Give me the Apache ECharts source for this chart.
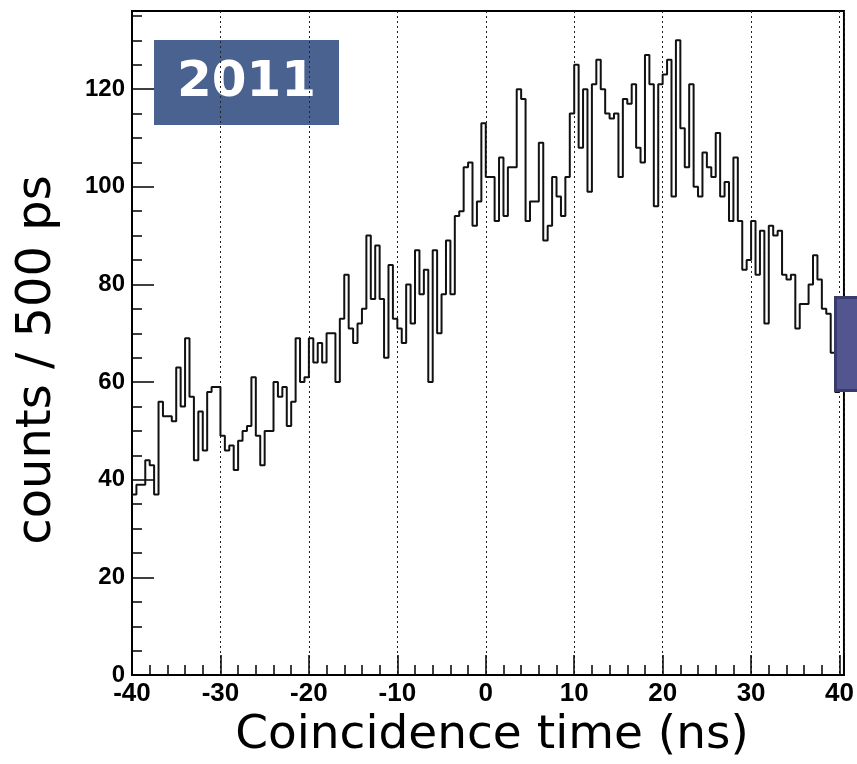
<!DOCTYPE html>
<html>
<head>
<meta charset="utf-8">
<script src="https://cdn.jsdelivr.net/npm/echarts@6/dist/echarts.min.js"></script>
<style>
  html, body { margin: 0; padding: 0; background: #fff; }
  #chart { width: 857px; height: 764px; }
</style>
</head>
<body>
<div id="chart"></div>
<script>
// Coincidence-time histogram, 0.5 ns bins from -40 ns to +40 ns
const binStart = -40;
const binWidth = 0.5;
const counts = [
  37, 39, 39, 44, 43, 37, 56, 53, 53, 52, 63, 55, 69, 57, 44, 54, 46, 58, 59, 59,
  49, 46, 47, 42, 48, 50, 51, 61, 49, 43, 50, 50, 60, 57, 59, 51, 56, 69, 60, 61,
  69, 64, 68, 64, 70, 70, 60, 73, 82, 71, 68, 72, 75, 90, 77, 88, 77, 65, 84, 73,
  71, 68, 80, 72, 87, 78, 83, 60, 87, 70, 78, 89, 78, 94, 95, 104, 105, 92, 97, 113,
  102, 102, 93, 106, 94, 104, 104, 120, 118, 93, 97, 97, 109, 89, 92, 102, 98, 94, 102, 115,
  125, 108, 120, 99, 121, 126, 120, 115, 114, 115, 102, 118, 117, 121, 108, 105, 127, 121, 96, 121,
  123, 126, 98, 130, 112, 104, 121, 100, 98, 107, 104, 102, 111, 98, 101, 93, 106, 93, 83, 85,
  93, 82, 91, 72, 92, 90, 91, 82, 81, 82, 71, 76, 76, 80, 86, 81, 75, 74, 66, 58
];
const xTickLabels = ['-40', '-30', '-20', '-10', '0', '10', '20', '30', '40'];
const yTickLabels = ['0', '20', '40', '60', '80', '100', '120'];
const yearTag = '2011';
const xTitle = 'Coincidence time (ns)';
const yTitle = 'counts / 500 ps';

// Step outline: each bin's left edge, plus the closing edge of the last bin
const histPoints = counts.map((c, i) => [binStart + i * binWidth, c]);
histPoints.push([binStart + counts.length * binWidth, counts[counts.length - 1]]);

const tickFont = "'Liberation Sans Narrow', 'Liberation Sans', Arial, sans-serif";
const titleFont = "'DejaVu Sans', Verdana, sans-serif";

const chart = echarts.init(document.getElementById('chart'), null, { renderer: 'canvas' });
chart.setOption({
  animation: false,
  backgroundColor: '#ffffff',
  grid: {
    left: 132, right: 10, top: 11, bottom: 85,
    show: true, borderColor: '#000', borderWidth: 2, backgroundColor: 'transparent'
  },
  xAxis: [
    {
      type: 'value', min: -40, max: 40.5, interval: 10, position: 'bottom',
      name: xTitle, nameLocation: 'middle', nameGap: 36,
      nameTextStyle: { fontFamily: titleFont, fontSize: 47, color: '#000', padding: [0, 0, 0, 8] },
      axisLine: { show: true, onZero: false, lineStyle: { color: '#000', width: 2 } },
      axisTick: { show: true, inside: true, length: 20, lineStyle: { color: '#000', width: 1.5 } },
      axisLabel: {
        margin: 6, color: '#000', fontFamily: tickFont, fontWeight: 'bold', fontSize: 26,
        formatter: v => (xTickLabels.indexOf(String(v)) >= 0 ? String(v) : '')
      },
      splitLine: { show: true, lineStyle: { color: '#222', width: 1, type: [2, 3] } }
    },
    {
      type: 'value', min: -40, max: 40.5, interval: 2, position: 'bottom',
      axisLine: { show: false, onZero: false },
      axisTick: { show: true, inside: true, length: 10, lineStyle: { color: '#000', width: 1.5 } },
      axisLabel: { show: false },
      splitLine: { show: false }
    }
  ],
  yAxis: [
    {
      type: 'value', min: 0, max: 136, interval: 20, position: 'left',
      axisLine: { show: true, onZero: false, lineStyle: { color: '#000', width: 2 } },
      axisTick: { show: true, inside: true, length: 22, lineStyle: { color: '#000', width: 1.5 } },
      axisLabel: {
        margin: 7, color: '#000', fontFamily: tickFont, fontWeight: 'bold', fontSize: 24,
        formatter: v => (yTickLabels.indexOf(String(v)) >= 0 ? String(v) : '')
      },
      splitLine: { show: false }
    },
    {
      type: 'value', min: 0, max: 136, interval: 5, position: 'left',
      axisLine: { show: false, onZero: false },
      axisTick: { show: true, inside: true, length: 10, lineStyle: { color: '#000', width: 1.5 } },
      axisLabel: { show: false },
      splitLine: { show: false }
    }
  ],
  series: [
    {
      type: 'line',
      xAxisIndex: 0, yAxisIndex: 0,
      data: histPoints,
      step: 'end',
      symbol: 'none',
      lineStyle: { color: '#111', width: 2 },
      z: 5
    }
  ],
  graphic: [
    {
      // vertical axis title, reading bottom to top
      type: 'text', z: 10,
      x: 38, y: 360,
      rotation: Math.PI / 2,
      style: { text: yTitle, fill: '#000', font: "48px 'DejaVu Sans', Verdana, sans-serif",
               textAlign: 'center', textVerticalAlign: 'middle' }
    },
    {
      type: 'group', left: 154, top: 40, z: -1,
      children: [
        { type: 'rect', shape: { x: 0, y: 0, width: 185, height: 85 },
          style: { fill: 'rgba(42,70,123,0.85)' } },
        { type: 'text', x: 92.5, y: 43,
          style: { text: yearTag, fill: '#fff', font: "bold 50px 'DejaVu Sans', Verdana, sans-serif",
                   textAlign: 'center', textVerticalAlign: 'middle' } }
      ]
    },
    {
      type: 'rect', left: 834, top: 296, z: 100,
      shape: { x: 0, y: 0, width: 30, height: 93 },
      style: { fill: '#52558f', stroke: '#393b6c', lineWidth: 3 }
    }
  ]
});
</script>
</body>
</html>
